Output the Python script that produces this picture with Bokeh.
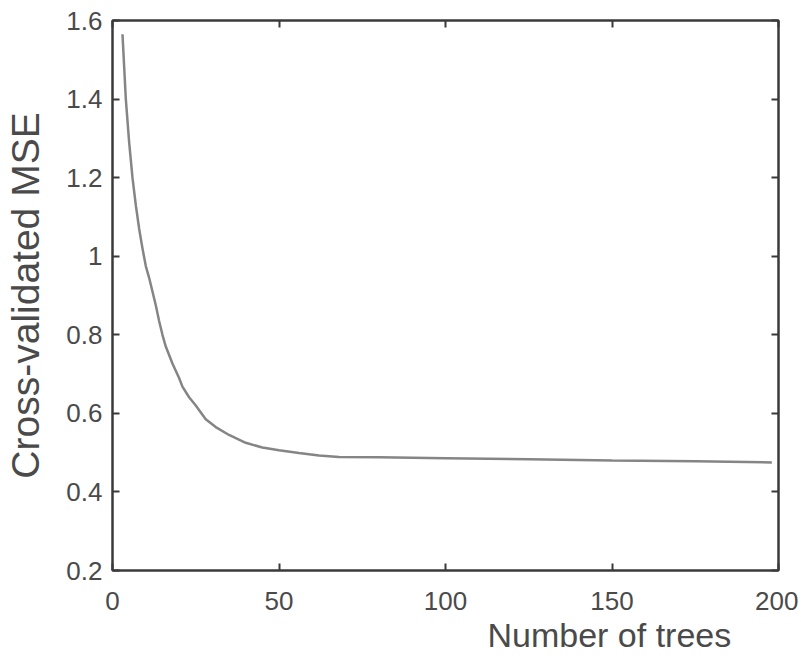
from bokeh.plotting import figure
from bokeh.models import (Range1d, LinearAxis, FixedTicker, CustomJSTickFormatter, Title)
from bokeh.embed import file_html
from bokeh.resources import INLINE

# Data
n_trees = [3, 4, 5, 6, 7, 8, 9, 10, 11, 12, 13, 14, 15, 16, 18, 20, 21, 23, 25, 28,
           31, 35, 40, 45, 50, 56, 62, 68, 80, 100, 125, 150, 175, 198]
cv_mse = [1.565, 1.40, 1.29, 1.20, 1.13, 1.07, 1.02, 0.975, 0.945, 0.91, 0.875, 0.835,
          0.80, 0.77, 0.727, 0.69, 0.668, 0.641, 0.62, 0.585, 0.565, 0.545, 0.525,
          0.513, 0.506, 0.499, 0.493, 0.489, 0.488, 0.486, 0.483, 0.480, 0.478, 0.475]

x_ticks = [0, 50, 100, 150, 200]
y_ticks = [0.2, 0.4, 0.6, 0.8, 1.0, 1.2, 1.4, 1.6]
x_label = "Number of trees"
y_label = "Cross-validated MSE"

FONT = "Liberation Sans"
AX = "#3a3a3a"
TXT = "#4a4a4a"

p = figure(frame_width=666, frame_height=550,
           x_range=Range1d(0, 200), y_range=Range1d(0.2, 1.6),
           output_backend="svg", toolbar_location=None,
           x_axis_location=None, y_axis_location=None,
           min_border_left=112, min_border_right=20, min_border_top=20, min_border_bottom=20)
p.grid.visible = False
p.outline_line_color = AX
p.outline_line_width = 2
p.background_fill_color = "white"
p.border_fill_color = "white"

fmt_y = CustomJSTickFormatter(code="return String(Number(tick.toFixed(1)));")
blank = CustomJSTickFormatter(code="return '';")

def style(ax, show_labels):
    ax.axis_line_color = AX
    ax.axis_line_width = 2
    ax.major_tick_line_color = AX
    ax.major_tick_line_width = 2
    ax.major_tick_in = 7
    ax.major_tick_out = 0
    ax.minor_tick_line_color = None
    ax.major_label_text_font = FONT
    ax.major_label_text_font_size = "26px"
    ax.major_label_text_color = TXT
    if not show_labels:
        ax.major_label_standoff = 0
        ax.major_label_text_font_size = "0px"

bottom = LinearAxis(ticker=FixedTicker(ticks=x_ticks))
style(bottom, True)
bottom.major_label_standoff = 21
p.add_layout(bottom, "below")

top = LinearAxis(ticker=FixedTicker(ticks=x_ticks), formatter=blank)
style(top, False)
p.add_layout(top, "above")

left = LinearAxis(ticker=FixedTicker(ticks=y_ticks), formatter=fmt_y)
style(left, True)
left.major_label_standoff = 10
left.axis_label = y_label
left.axis_label_text_font = FONT
left.axis_label_text_font_style = "normal"
left.axis_label_text_font_size = "39px"
left.axis_label_text_color = TXT
left.axis_label_standoff = 16
p.add_layout(left, "left")

right = LinearAxis(ticker=FixedTicker(ticks=y_ticks), formatter=blank)
style(right, False)
p.add_layout(right, "right")

p.line(n_trees, cv_mse, line_color="#858585", line_width=2.5)

xt = Title(text=x_label, align="left", offset=375, standoff=2,
           text_font=FONT, text_font_size="34px", text_color=TXT,
           text_font_style="normal")
p.add_layout(xt, "below")

open("out.html", "w").write(file_html(p, INLINE))
